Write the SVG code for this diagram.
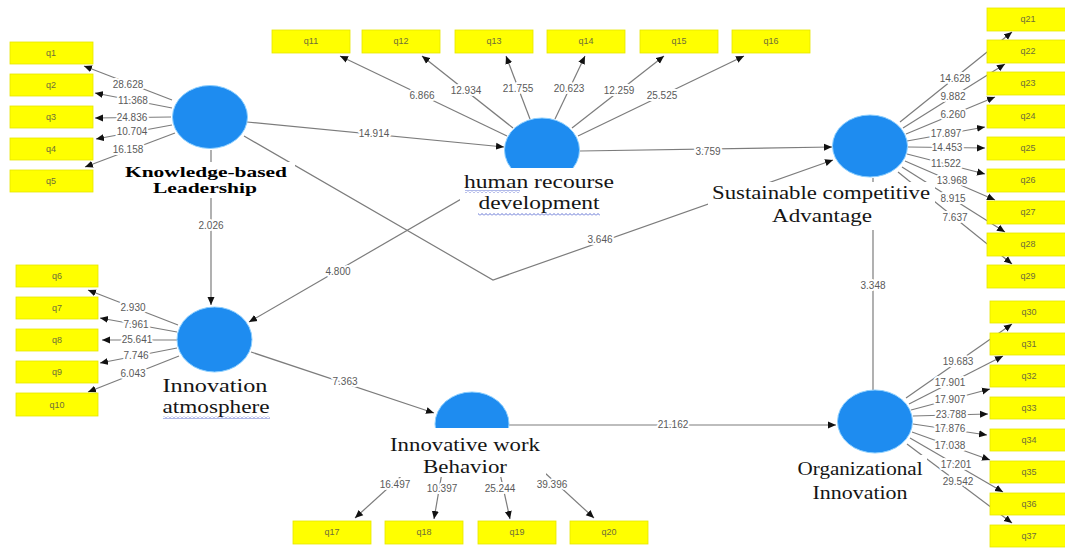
<svg xmlns="http://www.w3.org/2000/svg" width="1065" height="548" viewBox="0 0 1065 548">
<style>
.box{fill:#ffff00;stroke:#e6e600;stroke-width:0.8}
.bt{font-family:"Liberation Sans",Arial,sans-serif;font-size:9px;fill:#6e6e3a;text-anchor:middle}
.lv{fill:#1e8cf0;stroke:#8ccfff;stroke-width:1}
.ln{stroke:#7c7c7c;stroke-width:1.2;fill:none}
.num{font-family:"Liberation Sans",Arial,sans-serif;font-size:10px;fill:#5a5a5a;text-anchor:middle;stroke:#fff;stroke-width:4;paint-order:stroke;stroke-linejoin:round}
.lab{font-family:"Liberation Serif","Times New Roman",serif;font-size:19px;fill:#151515;text-anchor:middle}
.labb{font-family:"Liberation Serif","Times New Roman",serif;font-size:14px;font-weight:bold;fill:#000;text-anchor:middle}
.bg{fill:#fff}
.wv{fill:url(#wave)}
</style>
<defs>
<marker id="a" markerUnits="userSpaceOnUse" markerWidth="9" markerHeight="8" refX="8" refY="4" orient="auto"><path d="M0,0.5 L8,4 L0,7.5z" fill="#111"/></marker>
<pattern id="wave" patternUnits="userSpaceOnUse" width="4" height="3"><path d="M0,2.5 L2,0.5 L4,2.5" stroke="#3a4fc8" stroke-width="0.8" fill="none"/></pattern>
</defs>

<g id="connectors">
<line class="ln" x1="172" y1="100" x2="84" y2="66" marker-end="url(#a)"/>
<line class="ln" x1="172" y1="108" x2="95" y2="93" marker-end="url(#a)"/>
<line class="ln" x1="171" y1="117" x2="95" y2="118" marker-end="url(#a)"/>
<line class="ln" x1="172" y1="125" x2="96" y2="139" marker-end="url(#a)"/>
<line class="ln" x1="175" y1="133" x2="85" y2="167" marker-end="url(#a)"/>
<line class="ln" x1="178" y1="325" x2="88" y2="290" marker-end="url(#a)"/>
<line class="ln" x1="177" y1="332" x2="100" y2="318" marker-end="url(#a)"/>
<line class="ln" x1="177" y1="340" x2="102" y2="340" marker-end="url(#a)"/>
<line class="ln" x1="177" y1="348" x2="100" y2="363" marker-end="url(#a)"/>
<line class="ln" x1="179" y1="356" x2="88" y2="392" marker-end="url(#a)"/>
<line class="ln" x1="507" y1="136" x2="340" y2="56" marker-end="url(#a)"/>
<line class="ln" x1="513" y1="128" x2="422" y2="56" marker-end="url(#a)"/>
<line class="ln" x1="530" y1="119" x2="506" y2="56" marker-end="url(#a)"/>
<line class="ln" x1="555" y1="119" x2="585" y2="56" marker-end="url(#a)"/>
<line class="ln" x1="572" y1="128" x2="664" y2="56" marker-end="url(#a)"/>
<line class="ln" x1="578" y1="136" x2="744" y2="56" marker-end="url(#a)"/>
<line class="ln" x1="900" y1="122" x2="1012" y2="32" marker-end="url(#a)"/>
<line class="ln" x1="903" y1="128" x2="1005" y2="64" marker-end="url(#a)"/>
<line class="ln" x1="906" y1="134" x2="995" y2="97" marker-end="url(#a)"/>
<line class="ln" x1="907" y1="141" x2="985" y2="127" marker-end="url(#a)"/>
<line class="ln" x1="908" y1="147" x2="985" y2="148" marker-end="url(#a)"/>
<line class="ln" x1="907" y1="154" x2="985" y2="174" marker-end="url(#a)"/>
<line class="ln" x1="905" y1="161" x2="995" y2="200" marker-end="url(#a)"/>
<line class="ln" x1="902" y1="167" x2="1005" y2="232" marker-end="url(#a)"/>
<line class="ln" x1="898" y1="172" x2="1012" y2="264" marker-end="url(#a)"/>
<line class="ln" x1="906" y1="398" x2="1012" y2="324" marker-end="url(#a)"/>
<line class="ln" x1="909" y1="404" x2="1003" y2="356" marker-end="url(#a)"/>
<line class="ln" x1="911" y1="410" x2="990" y2="389" marker-end="url(#a)"/>
<line class="ln" x1="913" y1="416" x2="988" y2="414" marker-end="url(#a)"/>
<line class="ln" x1="913" y1="424" x2="987" y2="435" marker-end="url(#a)"/>
<line class="ln" x1="912" y1="432" x2="990" y2="460" marker-end="url(#a)"/>
<line class="ln" x1="910" y1="438" x2="1003" y2="492" marker-end="url(#a)"/>
<line class="ln" x1="907" y1="444" x2="1012" y2="523" marker-end="url(#a)"/>
<line class="ln" x1="430" y1="450" x2="355" y2="518" marker-end="url(#a)"/>
<line class="ln" x1="445" y1="455" x2="434" y2="519" marker-end="url(#a)"/>
<line class="ln" x1="496" y1="455" x2="510" y2="519" marker-end="url(#a)"/>
<line class="ln" x1="520" y1="450" x2="594" y2="518" marker-end="url(#a)"/>
<line class="ln" x1="247" y1="122" x2="504" y2="147" marker-end="url(#a)"/>
<line class="ln" x1="580" y1="151" x2="832" y2="147" marker-end="url(#a)"/>
<polyline class="ln" points="244,136 493,280 833,160" marker-end="url(#a)"/>
<line class="ln" x1="211" y1="150" x2="211" y2="305" marker-end="url(#a)"/>
<line class="ln" x1="520" y1="165" x2="249" y2="322" marker-end="url(#a)"/>
<line class="ln" x1="251" y1="352" x2="434" y2="413" marker-end="url(#a)"/>
<line class="ln" x1="509" y1="425" x2="836" y2="425" marker-end="url(#a)"/>
<line class="ln" x1="873" y1="178" x2="873" y2="390"/>
<text class="num" x="128" y="88">28.628</text>
<text class="num" x="133" y="104">11.368</text>
<text class="num" x="132" y="121">24.836</text>
<text class="num" x="132" y="135">10.704</text>
<text class="num" x="128" y="153">16.158</text>
<text class="num" x="133" y="311">2.930</text>
<text class="num" x="136" y="328">7.961</text>
<text class="num" x="137" y="343">25.641</text>
<text class="num" x="136" y="359">7.746</text>
<text class="num" x="133" y="377">6.043</text>
<text class="num" x="422" y="99">6.866</text>
<text class="num" x="466" y="94">12.934</text>
<text class="num" x="518" y="92">21.755</text>
<text class="num" x="569" y="92">20.623</text>
<text class="num" x="619" y="94">12.259</text>
<text class="num" x="662" y="99">25.525</text>
<text class="num" x="955" y="82">14.628</text>
<text class="num" x="953" y="100">9.882</text>
<text class="num" x="953" y="118">6.260</text>
<text class="num" x="946" y="137">17.897</text>
<text class="num" x="947" y="151">14.453</text>
<text class="num" x="946" y="167">11.522</text>
<text class="num" x="952" y="184">13.968</text>
<text class="num" x="953" y="202">8.915</text>
<text class="num" x="955" y="221">7.637</text>
<text class="num" x="958" y="365">19.683</text>
<text class="num" x="950" y="386">17.901</text>
<text class="num" x="950" y="403">17.907</text>
<text class="num" x="951" y="418">23.788</text>
<text class="num" x="950" y="432">17.876</text>
<text class="num" x="950" y="449">17.038</text>
<text class="num" x="956" y="468">17.201</text>
<text class="num" x="958" y="485">29.542</text>
<text class="num" x="395" y="488">16.497</text>
<text class="num" x="442" y="492">10.397</text>
<text class="num" x="500" y="492">25.244</text>
<text class="num" x="552" y="488">39.396</text>
<text class="num" x="374" y="137">14.914</text>
<text class="num" x="708" y="155">3.759</text>
<text class="num" x="600" y="243">3.646</text>
<text class="num" x="211" y="229">2.026</text>
<text class="num" x="338" y="275">4.800</text>
<text class="num" x="345" y="385">7.363</text>
<text class="num" x="673" y="428">21.162</text>
<text class="num" x="873" y="289">3.348</text>
</g>

<g id="kbl">
<ellipse class="lv" cx="210" cy="117" rx="37.5" ry="31.5"/>
<rect class="bg" x="120" y="162" width="175" height="36"/>
<text class="labb" x="206" y="177" textLength="162" lengthAdjust="spacingAndGlyphs">Knowledge-based</text>
<text class="labb" x="205" y="193" textLength="104" lengthAdjust="spacingAndGlyphs">Leadership</text>
</g>

<g id="hrd">
<ellipse class="lv" cx="542" cy="150" rx="37.5" ry="32"/>
<rect class="bg" x="460" y="168" width="158" height="46"/>
<text class="lab" x="539" y="188" textLength="150" lengthAdjust="spacingAndGlyphs">human recourse</text>
<text class="lab" x="539" y="209" textLength="121" lengthAdjust="spacingAndGlyphs">development</text>
<rect class="wv" x="465" y="190" width="55" height="3"/>
<rect class="wv" x="478" y="213" width="122" height="3"/>
</g>

<g id="sca">
<ellipse class="lv" cx="870" cy="146" rx="37.5" ry="31"/>
<rect class="bg" x="708" y="182" width="227" height="48"/>
<text class="lab" x="821" y="199" textLength="218" lengthAdjust="spacingAndGlyphs">Sustainable competitive</text>
<text class="lab" x="822" y="222" textLength="100" lengthAdjust="spacingAndGlyphs">Advantage</text>
</g>

<g id="ia">
<ellipse class="lv" cx="214.5" cy="339.5" rx="37.5" ry="32.5"/>
<rect class="bg" x="158" y="376" width="116" height="44"/>
<text class="lab" x="215" y="392" textLength="105" lengthAdjust="spacingAndGlyphs">Innovation</text>
<text class="lab" x="216" y="413" textLength="107" lengthAdjust="spacingAndGlyphs">atmosphere</text>
<rect class="wv" x="163" y="416" width="107" height="3"/>
</g>

<g id="iwb">
<ellipse class="lv" cx="472" cy="424" rx="37" ry="32"/>
<rect class="bg" x="386" y="428" width="160" height="49"/>
<text class="lab" x="465" y="451" textLength="150" lengthAdjust="spacingAndGlyphs">Innovative work</text>
<text class="lab" x="465" y="473" textLength="84" lengthAdjust="spacingAndGlyphs">Behavior</text>
</g>

<g id="oi">
<ellipse class="lv" cx="875" cy="421.5" rx="37.5" ry="31.5"/>
<rect class="bg" x="795" y="455" width="132" height="50"/>
<text class="lab" x="860" y="475" textLength="125" lengthAdjust="spacingAndGlyphs">Organizational</text>
<text class="lab" x="860" y="499" textLength="95" lengthAdjust="spacingAndGlyphs">Innovation</text>
</g>

<g id="q1"><rect class="box" x="10" y="42" width="83" height="22"/><text class="bt" x="51" y="56">q1</text></g>
<g id="q2"><rect class="box" x="10" y="74" width="83" height="22"/><text class="bt" x="51" y="88">q2</text></g>
<g id="q3"><rect class="box" x="10" y="106" width="83" height="22"/><text class="bt" x="51" y="120">q3</text></g>
<g id="q4"><rect class="box" x="10" y="138" width="83" height="22"/><text class="bt" x="51" y="152">q4</text></g>
<g id="q5"><rect class="box" x="10" y="170" width="83" height="22"/><text class="bt" x="51" y="184">q5</text></g>
<g id="q6"><rect class="box" x="16" y="265" width="82" height="22"/><text class="bt" x="57" y="279">q6</text></g>
<g id="q7"><rect class="box" x="16" y="297" width="82" height="22"/><text class="bt" x="57" y="311">q7</text></g>
<g id="q8"><rect class="box" x="16" y="329" width="82" height="22"/><text class="bt" x="57" y="343">q8</text></g>
<g id="q9"><rect class="box" x="16" y="361" width="82" height="22"/><text class="bt" x="57" y="375">q9</text></g>
<g id="q10"><rect class="box" x="16" y="393" width="82" height="23"/><text class="bt" x="57" y="408">q10</text></g>
<g id="q11"><rect class="box" x="272" y="30" width="78" height="23"/><text class="bt" x="311" y="44">q11</text></g>
<g id="q12"><rect class="box" x="362" y="30" width="78" height="23"/><text class="bt" x="401" y="44">q12</text></g>
<g id="q13"><rect class="box" x="455" y="30" width="78" height="23"/><text class="bt" x="494" y="44">q13</text></g>
<g id="q14"><rect class="box" x="547" y="30" width="78" height="23"/><text class="bt" x="586" y="44">q14</text></g>
<g id="q15"><rect class="box" x="640" y="30" width="78" height="23"/><text class="bt" x="679" y="44">q15</text></g>
<g id="q16"><rect class="box" x="732" y="30" width="78" height="23"/><text class="bt" x="771" y="44">q16</text></g>
<g id="q17"><rect class="box" x="293" y="521" width="78" height="23"/><text class="bt" x="332" y="535">q17</text></g>
<g id="q18"><rect class="box" x="385" y="521" width="78" height="23"/><text class="bt" x="424" y="535">q18</text></g>
<g id="q19"><rect class="box" x="478" y="521" width="78" height="23"/><text class="bt" x="517" y="535">q19</text></g>
<g id="q20"><rect class="box" x="570" y="521" width="78" height="23"/><text class="bt" x="609" y="535">q20</text></g>
<g id="q21"><rect class="box" x="987" y="8" width="80" height="23"/><text class="bt" x="1028" y="22">q21</text></g>
<g id="q22"><rect class="box" x="987" y="40" width="80" height="23"/><text class="bt" x="1028" y="54">q22</text></g>
<g id="q23"><rect class="box" x="987" y="72" width="80" height="23"/><text class="bt" x="1028" y="86">q23</text></g>
<g id="q24"><rect class="box" x="987" y="105" width="80" height="23"/><text class="bt" x="1028" y="119">q24</text></g>
<g id="q25"><rect class="box" x="987" y="137" width="80" height="23"/><text class="bt" x="1028" y="151">q25</text></g>
<g id="q26"><rect class="box" x="987" y="169" width="80" height="23"/><text class="bt" x="1028" y="183">q26</text></g>
<g id="q27"><rect class="box" x="987" y="201" width="80" height="23"/><text class="bt" x="1028" y="215">q27</text></g>
<g id="q28"><rect class="box" x="987" y="233" width="80" height="23"/><text class="bt" x="1028" y="247">q28</text></g>
<g id="q29"><rect class="box" x="987" y="265" width="80" height="23"/><text class="bt" x="1028" y="279">q29</text></g>
<g id="q30"><rect class="box" x="990" y="301" width="77" height="22"/><text class="bt" x="1029" y="315">q30</text></g>
<g id="q31"><rect class="box" x="990" y="333" width="77" height="22"/><text class="bt" x="1029" y="347">q31</text></g>
<g id="q32"><rect class="box" x="990" y="365" width="77" height="22"/><text class="bt" x="1029" y="379">q32</text></g>
<g id="q33"><rect class="box" x="990" y="397" width="77" height="22"/><text class="bt" x="1029" y="411">q33</text></g>
<g id="q34"><rect class="box" x="990" y="429" width="77" height="22"/><text class="bt" x="1029" y="443">q34</text></g>
<g id="q35"><rect class="box" x="990" y="461" width="77" height="22"/><text class="bt" x="1029" y="475">q35</text></g>
<g id="q36"><rect class="box" x="990" y="493" width="77" height="22"/><text class="bt" x="1029" y="507">q36</text></g>
<g id="q37"><rect class="box" x="990" y="525" width="77" height="22"/><text class="bt" x="1029" y="539">q37</text></g>
</svg>
